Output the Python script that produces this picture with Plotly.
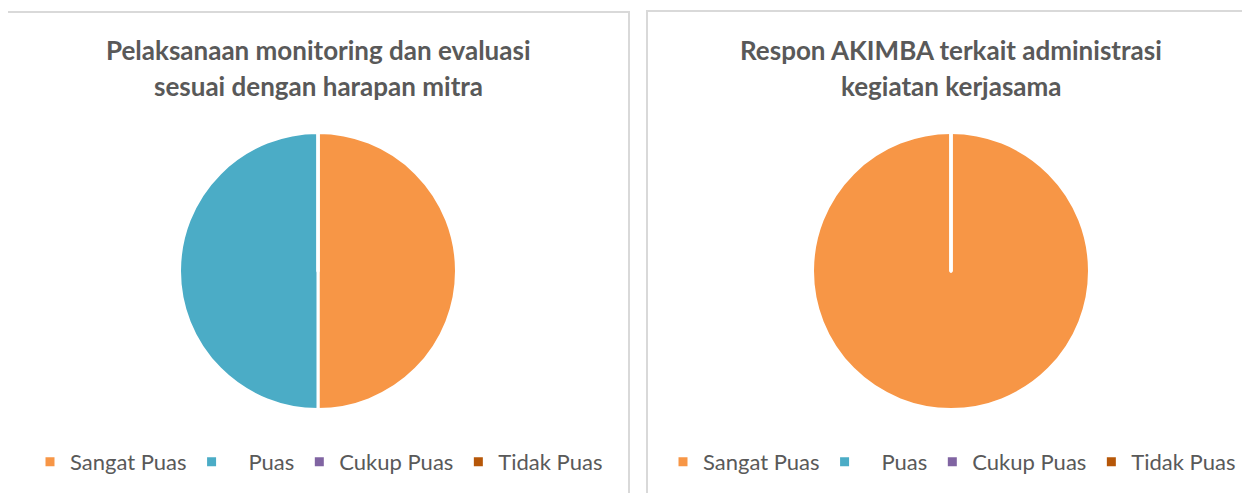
import plotly.graph_objects as go

# The page body has an 8px default margin; the figure is sized to fit the window.
OFF = 8
W, H = 1250 - OFF, 493 - OFF

categories = ["Sangat Puas", "\u00a0\u00a0\u00a0Puas", "Cukup Puas", "Tidak Puas"]
values_left = [1, 1, 0, 0]
values_right = [2, 0, 0, 0]
colors = ["#F79646", "#4BACC6", "#8064A2", "#B65708"]
title_left = ["Pelaksanaan monitoring dan evaluasi", "sesuai dengan harapan mitra"]
title_right = ["Respon AKIMBA terkait administrasi", "kegiatan kerjasama"]

def px(x):
    return (x - OFF) / W

def py(y):
    return 1 - (y - OFF) / H

R = 138.5
centers = [(318, 271), (951, 271)]

fig = go.Figure()
for i, (vals, (cx, cy)) in enumerate(zip([values_left, values_right], centers)):
    # second legend needs its own label identities (zero-width suffix, invisible)
    labs = categories if i == 0 else [c + "\u200b" for c in categories]
    fig.add_trace(go.Pie(
        labels=labs,
        values=vals,
        marker=dict(colors=colors, line=dict(color="white", width=3)),
        sort=False,
        direction="clockwise",
        rotation=0,
        textinfo="none",
        hoverinfo="label+percent",
        domain=dict(x=[px(cx - R), px(cx + R)], y=[py(cy + R), py(cy - R)]),
        legend="legend" if i == 0 else "legend2",
        showlegend=True,
    ))

font_family = "Lato, Carlito, Calibri, sans-serif"
txt_color = "#595959"

annotations = []
for (cx, _), lines in zip(centers, [title_left, title_right]):
    for j, line in enumerate(lines):
        annotations.append(dict(
            text="<b>" + line + "</b>", x=px(cx), y=py(50 + 36 * j),
            xref="paper", yref="paper", xanchor="center", yanchor="middle",
            showarrow=False, font=dict(family=font_family, size=26, color=txt_color),
        ))

border = dict(color="#D9D9D9", width=2)
shapes = [
    dict(type="rect", xref="paper", yref="paper", x0=px(7), x1=px(629), y0=py(510), y1=py(12), line=border),
    dict(type="rect", xref="paper", yref="paper", x0=px(647), x1=px(1270), y0=py(510), y1=py(11), line=border),
    # radial edge of the single full slice in the right pie
    dict(type="line", xref="paper", yref="paper", x0=px(centers[1][0]), x1=px(centers[1][0]),
         y0=py(centers[1][1]), y1=py(centers[1][1] - R), line=dict(color="white", width=3)),
]

legend_common = dict(orientation="h", xanchor="center", yanchor="middle",
                     font=dict(family=font_family, size=22, color=txt_color),
                     bgcolor="rgba(0,0,0,0)", itemclick=False, itemdoubleclick=False,
                     traceorder="normal")

fig.update_layout(
    width=W, height=H,
    margin=dict(l=0, r=0, t=0, b=0),
    paper_bgcolor="white", plot_bgcolor="white",
    annotations=annotations,
    shapes=shapes,
    legend=dict(x=px(319), y=py(462), **legend_common),
    legend2=dict(x=px(952), y=py(462), **legend_common),
)

fig.write_html("out.html")
